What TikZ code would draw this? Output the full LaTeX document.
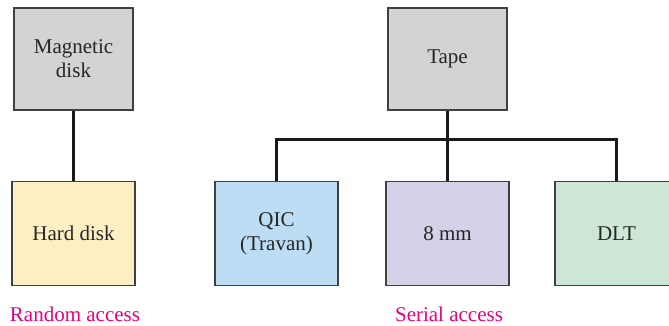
\documentclass[tikz,border=0pt]{standalone}
\usepackage{fontspec}
\setmainfont{Liberation Serif}
\usetikzlibrary{positioning}
\definecolor{boxgray}{RGB}{209,211,212}
\definecolor{boxyellow}{RGB}{254,239,195}
\definecolor{boxblue}{RGB}{189,221,244}
\definecolor{boxlilac}{RGB}{213,209,233}
\definecolor{boxgreen}{RGB}{205,230,214}
\definecolor{accessmagenta}{RGB}{230,0,126}
\definecolor{edgegray}{RGB}{64,64,64}
\begin{document}
\begin{tikzpicture}[x=1pt, y=-1pt,
  every node/.style={font=\fontsize{21}{24}\selectfont, text=black!85},
  media/.style={draw=edgegray, line width=1.6pt, align=center, inner sep=0pt,
    minimum width=121pt, minimum height=104pt},
  link/.style={line width=2.6pt, black!90},
  kind/.style={text=accessmagenta}]
\useasboundingbox (0,0) rectangle (669,325);
\node[media,fill=boxgray,minimum width=119pt,minimum height=102pt] (magdisk) at (73.5,59) {Magnetic\\disk};
\node[media,fill=boxyellow,minimum width=123pt,minimum height=104pt] (harddisk) at (73.5,233.5) {Hard disk};
\node[media,fill=boxgray,minimum width=119pt,minimum height=102pt] (tape) at (447.5,59) {Tape};
\node[media,fill=boxblue,minimum width=123pt] (qic) at (276.5,233.5) {QIC\\(Travan)};
\node[media,fill=boxlilac,minimum width=123pt] (eightmm) at (447.5,233.5) {8 mm};
\node[media,fill=boxgreen,minimum width=123pt] (dlt) at (616.5,233.5) {DLT};
\coordinate (bus) at (447.5,139.5);
\draw[link] (magdisk) -- (harddisk);
\draw[link] (tape) -- (bus);
\draw[link] (qic.north) |- (bus) -| (dlt.north);
\draw[link] (bus) -- (eightmm);
\node[kind] (random) at (75,314) {Random access};
\node[kind] (serial) at (449,314) {Serial access};
\end{tikzpicture}
\end{document}
